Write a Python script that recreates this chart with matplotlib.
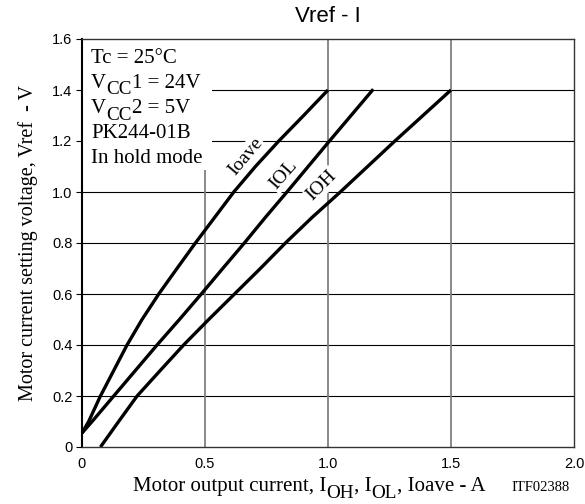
import matplotlib
matplotlib.use("Agg")
from matplotlib import pyplot as plt
from matplotlib.patches import Rectangle

plt.rcParams["font.family"] = "Liberation Serif"

# curves (current in A, Vref in V)
ioave_x = [0.0, 0.027, 0.075, 0.129, 0.183, 0.244, 0.312, 0.386, 0.461,
           0.539, 0.617, 0.705, 0.80, 0.901, 1.0]
ioave_y = [0.055, 0.1, 0.2, 0.3, 0.4, 0.5, 0.6, 0.7, 0.8,
           0.9, 1.0, 1.1, 1.2, 1.3, 1.4]
iol_x = [0.0, 0.041, 0.129, 0.217, 0.305, 0.396, 0.485, 0.572, 0.66,
         0.745, 0.833, 1.006, 1.184]
iol_y = [0.055, 0.1, 0.2, 0.3, 0.4, 0.5, 0.6, 0.7, 0.8,
         0.9, 1.0, 1.2, 1.403]
ioh_x = [0.075, 0.149, 0.224, 0.318, 0.413, 0.515, 0.62, 0.725, 0.827,
         0.935, 1.05, 1.272, 1.5]
ioh_y = [0.0, 0.1, 0.2, 0.3, 0.4, 0.5, 0.6, 0.7, 0.8,
         0.9, 1.0, 1.2, 1.4]

x_ticks = [0, 0.5, 1.0, 1.5, 2.0]
x_labels = ["0", "0.5", "1.0", "1.5", "2.0"]
y_ticks = [0, 0.2, 0.4, 0.6, 0.8, 1.0, 1.2, 1.4, 1.6]
y_labels = ["0", "0.2", "0.4", "0.6", "0.8", "1.0", "1.2", "1.4", "1.6"]

# (text, is_subscript) pieces
conditions = [
    [("Tc = 25°C", False)],
    [("V", False), ("CC", True), ("1 = 24V", False)],
    [("V", False), ("CC", True), ("2 = 5V", False)],
    [("PK244-01B", False)],
    [("In hold mode", False)],
]
xlabel_parts = [("Motor output current, I", False), ("OH", True), (", I", False),
                ("OL", True), (", Ioave - A", False)]

W, H = 585, 504
fig = plt.figure(figsize=(W/100, H/100), dpi=100)
renderer = fig.canvas.get_renderer()


def rich_text(x_px, base_px, parts, size, ha="left"):
    """Write text with full-height lowered subscripts, baseline at base_px from top."""
    items = []
    x = 0.0
    for s, sub in parts:
        t = fig.text(0, 0, s, fontsize=size * (0.92 if sub else 1.0), va="baseline")
        w = t.get_window_extent(renderer).width
        items.append((t, x, sub))
        x += w
    x0 = x_px - x/2 if ha == "center" else x_px
    for t, dx, sub in items:
        dy = 6.5 if sub else 0
        t.set_position(((x0 + dx)/W, 1 - (base_px + dy)/H))


ax = fig.add_axes([82/W, 57/H, 492/W, 408/H])
ax.set_xlim(0, 2.0)
ax.set_ylim(0, 1.6)

# grid: black horizontals, grey verticals
for y in y_ticks[1:-1]:
    ax.axhline(y, color="black", lw=0.8, zorder=1)
for x in x_ticks[1:-1]:
    ax.axvline(x, color="#808080", lw=1.3, zorder=1)

# white patch behind the condition text
ax.add_patch(Rectangle((0, 0.679), 0.264, 0.321, transform=ax.transAxes,
                       facecolor="white", edgecolor="none", zorder=2))

lw = 2.4
ax.plot(ioave_x, ioave_y, color="black", lw=lw, zorder=4, solid_capstyle="butt")
ax.plot(iol_x, iol_y, color="black", lw=lw, zorder=4, solid_capstyle="butt")
ax.plot(ioh_x, ioh_y, color="black", lw=lw, zorder=4, solid_capstyle="butt")

box = dict(facecolor="white", edgecolor="none", pad=1)
ax.text(0.664, 1.138, "Ioave", rotation=50, ha="center", va="center",
        fontsize=14, bbox=box, zorder=3)
ax.text(0.82, 1.067, "IOL", rotation=49, ha="center", va="center",
        fontsize=14, bbox=box, zorder=3)
ax.text(0.974, 1.027, "IOH", rotation=45, ha="center", va="center",
        fontsize=14, bbox=box, zorder=3)

for i, parts in enumerate(conditions):
    rich_text(91, 63 + 25*i, parts, 15)

ax.set_xticks(x_ticks)
ax.set_xticklabels(x_labels, family="Liberation Sans", fontsize=10.5)
ax.set_yticks(y_ticks)
ax.set_yticklabels(y_labels, family="Liberation Sans", fontsize=10.5)
ax.tick_params(axis="x", length=0, pad=7)
ax.tick_params(axis="y", length=4, width=0.8, direction="out", pad=3)
for side in ["top", "right", "bottom"]:
    ax.spines[side].set_color("#333333")
    ax.spines[side].set_linewidth(1.0)
ax.spines["left"].set_color("black")
ax.spines["left"].set_linewidth(1.5)
for s in ax.spines.values():
    s.set_zorder(6)

fig.text(328/W, 1 - 17/H, "Vref - I", family="Liberation Sans",
         fontsize=16, ha="center", va="center")
ax.set_ylabel("Motor current setting voltage, Vref  - V", fontsize=14.5, labelpad=10)
rich_text(309, 491, xlabel_parts, 15, ha="center")
fig.text(541/W, 1 - 491/H, "ITF02388", fontsize=10.5, ha="center", va="baseline")

fig.savefig("out.png", dpi=100)
